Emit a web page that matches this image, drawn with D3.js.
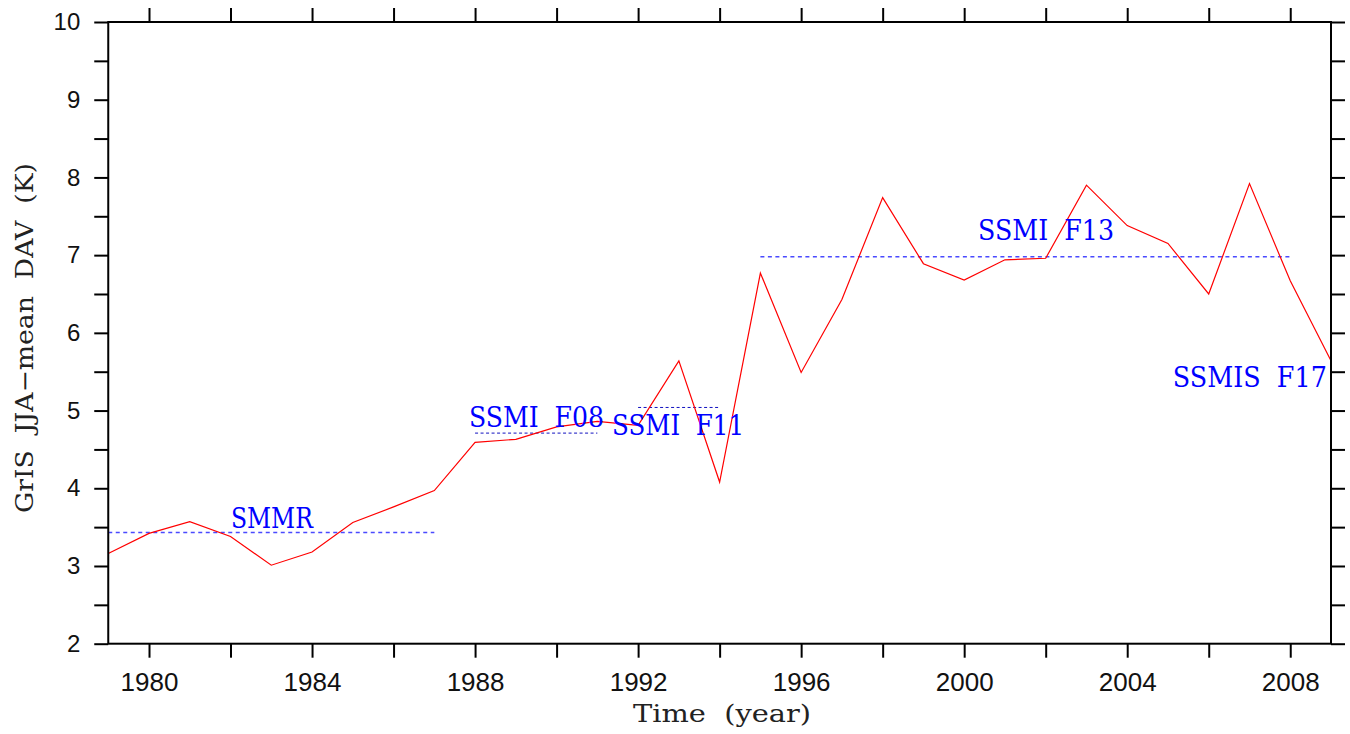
<!DOCTYPE html>
<html>
<head>
<meta charset="utf-8">
<script src="https://cdn.jsdelivr.net/npm/d3@7"></script>
<style>
  body { margin: 0; background: #fff; }
  text { white-space: pre; }
</style>
</head>
<body>
<script>
const years = d3.range(1979, 2010);
const dav = [3.16, 3.42, 3.57, 3.38, 3.01, 3.18, 3.56, 3.76, 3.97, 4.59,
             4.63, 4.79, 4.86, 4.81, 5.64, 4.08, 6.77, 5.49, 6.43, 7.74,
             6.89, 6.68, 6.94, 6.96, 7.90, 7.38, 7.15, 6.50, 7.92, 6.67, 5.64];

// sensor mean levels: [start year, end year, mean]
const sensorNames = ["SMMR", "SSMI  F08", "SSMI  F11", "SSMI  F13", "SSMIS  F17"];
const sensorSpans = [[1979, 1987], [1988, 1991], [1992, 1994], [1995, 2008], null];
const sensorMeans = [3.43, 4.71, 5.04, 6.98, null];
const labelAt = [[1982.01, 3.49], [1987.85, 4.79], [1991.36, 4.68], [2000.34, 7.20], [2005.12, 5.30]];
const labelWidth = [82, 135, 132, 136, 154];

const xTicks = d3.range(1980, 2009, 2);
const yTicks = d3.range(2, 10.01, 0.5);

const w = 1350, h = 734;
const margin = {left: 108.25, right: 19, top: 22, bottom: 90.3};
const serif = "'DejaVu Serif', 'Liberation Serif', serif";

const svg = d3.select("body").append("svg")
    .attr("width", w)
    .attr("height", h);

const x = d3.scaleLinear().domain([1979, 2009]).range([margin.left, w - margin.right]);
const y = d3.scaleLinear().domain([2, 10]).range([h - margin.bottom, margin.top]);

// sensor mean lines
sensorSpans.forEach((s, i) => {
    if (!s) return;
    const thin = i === 1 || i === 2;
    svg.append("line")
        .attr("x1", x(s[0])).attr("x2", x(s[1]))
        .attr("y1", y(sensorMeans[i])).attr("y2", y(sensorMeans[i]))
        .attr("stroke", thin ? "#1010c0" : "#4a4aff")
        .attr("stroke-width", thin ? 1 : 1.6)
        .attr("stroke-dasharray", thin ? "3,2.5" : "4,3.5");
});

// series
svg.append("path")
    .datum(years.map((yr, i) => [yr, dav[i]]))
    .attr("fill", "none")
    .attr("stroke", "#ff0000")
    .attr("stroke-width", 1.2)
    .attr("d", d3.line().x(d => x(d[0])).y(d => y(d[1])));

// sensor labels
svg.selectAll(".sensor")
    .data(sensorNames)
    .enter()
    .append("text")
    .attr("class", "sensor")
    .attr("x", (d, i) => x(labelAt[i][0]))
    .attr("y", (d, i) => y(labelAt[i][1]))
    .attr("font-family", serif)
    .attr("font-size", 27)
    .attr("fill", "#0000ff")
    .attr("textLength", (d, i) => labelWidth[i])
    .attr("lengthAdjust", "spacingAndGlyphs")
    .text(d => d);

// axes
const fmtX = d => d % 4 === 0 ? d : "";
const fmtY = d => Number.isInteger(d) ? d : "";

const gx = svg.append("g")
    .attr("transform", "translate(0," + y(2) + ")")
    .call(d3.axisBottom(x).tickValues(xTicks).tickSize(14).tickSizeOuter(0).tickPadding(15).tickFormat(fmtX));
const gxt = svg.append("g")
    .attr("transform", "translate(0," + y(10) + ")")
    .call(d3.axisTop(x).tickValues(xTicks).tickSize(14).tickSizeOuter(0).tickFormat(""));
const gy = svg.append("g")
    .attr("transform", "translate(" + x(1979) + ",0)")
    .call(d3.axisLeft(y).tickValues(yTicks).tickSize(14).tickSizeOuter(0).tickPadding(14).tickFormat(fmtY));
const gyr = svg.append("g")
    .attr("transform", "translate(" + x(2009) + ",0)")
    .call(d3.axisRight(y).tickValues(yTicks).tickSize(14).tickSizeOuter(0).tickFormat(""));

[gx, gxt, gy, gyr].forEach(g => {
    g.select(".domain").remove();
    g.selectAll(".tick line").attr("stroke", "#000").attr("stroke-width", 2);
    g.selectAll("text")
        .attr("fill", "#111")
        .attr("font-family", "'Liberation Sans', Arimo, Helvetica, sans-serif");
});
gx.selectAll("text").attr("font-size", 26);
gy.selectAll("text").attr("font-size", 24);

svg.append("rect")
    .attr("x", x(1979)).attr("y", y(10))
    .attr("width", x(2009) - x(1979))
    .attr("height", y(2) - y(10))
    .attr("fill", "none")
    .attr("stroke", "#000")
    .attr("stroke-width", 2);

// axis titles
svg.append("text")
    .attr("x", 633).attr("y", 722)
    .attr("font-family", serif)
    .attr("font-size", 24)
    .attr("fill", "#222")
    .attr("textLength", 178)
    .attr("lengthAdjust", "spacingAndGlyphs")
    .text("Time  (year)");

svg.append("text")
    .attr("transform", "translate(33,513) rotate(-90)")
    .attr("font-family", serif)
    .attr("font-size", 24)
    .attr("fill", "#222")
    .attr("textLength", 350)
    .attr("lengthAdjust", "spacingAndGlyphs")
    .text("GrIS  JJA\u2212mean  DAV  (K)");
</script>
</body>
</html>
